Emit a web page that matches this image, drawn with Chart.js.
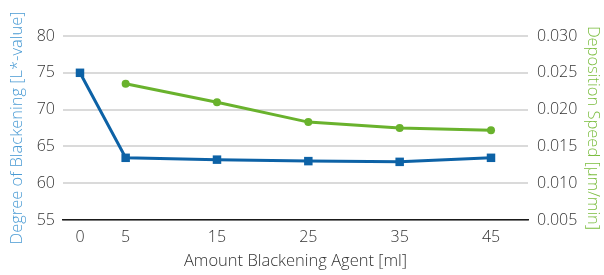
<!DOCTYPE html>
<html>
<head>
<meta charset="utf-8">
<script src="https://cdn.jsdelivr.net/npm/chart.js@4"></script>
<style>
  html, body { margin: 0; padding: 0; background: #fff; }
  #wrap { width: 604px; height: 275px; }
</style>
</head>
<body>
<div id="wrap"><canvas id="chart" width="604" height="275"></canvas></div>
<script>
// chart data
const amounts = [0, 5, 15, 25, 35, 45];
const blackening = [75.0, 63.45, 63.2, 63.0, 62.9, 63.45];
const depositionAmounts = [5, 15, 25, 35, 45];
const depositionSpeed = [0.0235, 0.0210, 0.0183, 0.0175, 0.0172];
const xTicks = [0, 5, 15, 25, 35, 45];

const blue = '#0d62a6';
const green = '#69b22d';
const font = { family: "'Open Sans', 'Noto Sans', sans-serif", size: 16, weight: 300 };
const titleFont = { family: "'Open Sans', 'Noto Sans', sans-serif", size: 16.5, weight: 300 };

const ctx = document.getElementById('chart').getContext('2d');
new Chart(ctx, {
    type: 'line',
    data: {
        datasets: [{
            label: 'Degree of Blackening',
            data: amounts.map((x, i) => ({ x: x, y: blackening[i] })),
            borderColor: blue,
            backgroundColor: blue,
            borderWidth: 3,
            pointStyle: 'rect',
            pointRadius: 6,
            pointBorderWidth: 0,
            yAxisID: 'y',
            tension: 0
        }, {
            label: 'Deposition Speed',
            data: depositionAmounts.map((x, i) => ({ x: x, y: depositionSpeed[i] })),
            borderColor: green,
            backgroundColor: green,
            borderWidth: 3,
            pointStyle: 'circle',
            pointRadius: 4,
            pointBorderWidth: 0,
            yAxisID: 'y2',
            tension: 0
        }]
    },
    options: {
        responsive: false,
        animation: false,
        layout: { padding: { top: 36, bottom: 0, left: 0, right: 0 } },
        plugins: { legend: { display: false }, tooltip: { enabled: false } },
        scales: {
            x: {
                type: 'linear',
                min: -1.86,
                max: 49.05,
                afterBuildTicks: axis => { axis.ticks = xTicks.map(v => ({ value: v })); },
                afterFit: axis => { axis.height = 55; },
                grid: { display: false, drawTicks: false },
                border: { display: true, color: '#1a1a1a', width: 1.5 },
                ticks: { color: '#333', font: font, padding: 8, maxRotation: 0 },
                title: { display: true, text: 'Amount Blackening Agent [ml]', color: '#333', font: titleFont, padding: { top: 7 } }
            },
            y: {
                position: 'left',
                min: 55,
                max: 80,
                afterBuildTicks: axis => { axis.ticks = [55, 60, 65, 70, 75, 80].map(v => ({ value: v })); },
                afterFit: axis => { axis.width = 63; },
                grid: { color: '#dadada', lineWidth: 2, drawTicks: false },
                border: { display: false },
                ticks: { color: '#333', font: font, padding: 8 },
                title: { display: true, text: 'Degree of Blackening [L*-value]', color: '#4a9bd4', font: titleFont, padding: { top: 7, bottom: 0 } }
            },
            y2: {
                position: 'right',
                min: 0.005,
                max: 0.030,
                afterBuildTicks: axis => { axis.ticks = [0.005, 0.010, 0.015, 0.020, 0.025, 0.030].map(v => ({ value: v })); },
                afterFit: axis => { axis.width = 76; },
                grid: { display: false, drawTicks: false },
                border: { display: false },
                ticks: { color: '#333', font: font, padding: 9, callback: v => v.toFixed(3) },
                title: { display: true, text: 'Deposition Speed [µm/min]', color: '#7bbd3f', font: titleFont, padding: { top: 1, bottom: 0 } }
            }
        }
    }
});
</script>
</body>
</html>
